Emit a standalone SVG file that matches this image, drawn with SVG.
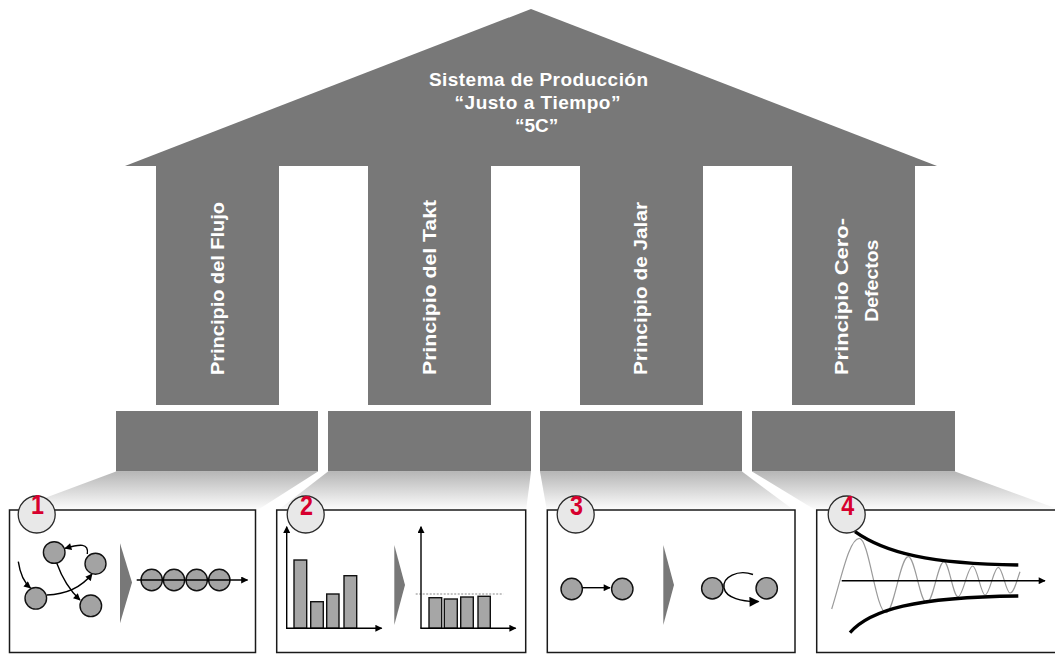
<svg xmlns="http://www.w3.org/2000/svg" width="1055" height="654" viewBox="0 0 1055 654">
<style>
.dark{fill:#787878}
.ttl{font-family:"Liberation Sans",Arial,sans-serif;font-weight:bold;fill:#fff}
.box{fill:#fff;stroke:#1a1a1a;stroke-width:1.5}
.nodec{fill:#a3a3a3;stroke:#111;stroke-width:1.4}
.bar{fill:#a6a6a6;stroke:#111;stroke-width:1.4}
.ln{fill:none;stroke:#000;stroke-width:1.4}
.chev{fill:#787878}
.badge{fill:#e8e8e8;stroke:#2a2a2a;stroke-width:1.3}
.num{font-family:"Liberation Sans",Arial,sans-serif;font-weight:bold;font-size:28px;fill:#d7002e}
</style>
<defs>
<linearGradient id="fade" x1="0" y1="0" x2="0" y2="1">
<stop offset="0" stop-color="#b6b6b6"/>
<stop offset="1" stop-color="#ffffff"/>
</linearGradient>
<marker id="ah" viewBox="0 0 10 10" refX="9" refY="5" markerWidth="8" markerHeight="7" markerUnits="userSpaceOnUse" orient="auto">
<path d="M0,0 L10,5 L0,10 z" fill="#000"/>
</marker>
<marker id="ahb" viewBox="0 0 10 10" refX="9" refY="5" markerWidth="11" markerHeight="10" markerUnits="userSpaceOnUse" orient="auto">
<path d="M0,0 L10,5 L0,10 z" fill="#000"/>
</marker>
</defs>

<g id="roof">
<polygon class="dark" points="125,166 531,9 937,166"/>
<text class="ttl" font-size="19" text-anchor="middle" x="538.5" y="86" textLength="219" lengthAdjust="spacing">Sistema de Producción</text>
<text class="ttl" font-size="19" text-anchor="middle" x="537.5" y="109.3" textLength="166" lengthAdjust="spacing">“Justo a Tiempo”</text>
<text class="ttl" font-size="19" text-anchor="middle" x="536.7" y="131.7">“5C”</text>
</g>

<g id="pillar-1">
<rect class="dark" x="156" y="165" width="123" height="240"/>
<text class="ttl" font-size="17.5" transform="translate(223.5,375) rotate(-90)" textLength="173" lengthAdjust="spacingAndGlyphs">Principio del Flujo</text>
</g>
<g id="pillar-2">
<rect class="dark" x="368" y="165" width="123" height="240"/>
<text class="ttl" font-size="17.5" transform="translate(436,375) rotate(-90)" textLength="175" lengthAdjust="spacingAndGlyphs">Principio del Takt</text>
</g>
<g id="pillar-3">
<rect class="dark" x="580" y="165" width="123" height="240"/>
<text class="ttl" font-size="17.5" transform="translate(647,375) rotate(-90)" textLength="173" lengthAdjust="spacingAndGlyphs">Principio de Jalar</text>
</g>
<g id="pillar-4">
<rect class="dark" x="792" y="165" width="123" height="240"/>
<text class="ttl" font-size="17.5" transform="translate(848.3,375) rotate(-90)" textLength="157" lengthAdjust="spacingAndGlyphs">Principio Cero-</text>
<text class="ttl" font-size="17.5" transform="translate(878,321.7) rotate(-90)" textLength="82" lengthAdjust="spacingAndGlyphs">Defectos</text>
</g>

<g id="base-1"><rect class="dark" x="116" y="411" width="202" height="60.5"/></g>
<g id="base-2"><rect class="dark" x="328" y="411" width="203" height="60.5"/></g>
<g id="base-3"><rect class="dark" x="540" y="411" width="202" height="60.5"/></g>
<g id="base-4"><rect class="dark" x="752" y="411" width="203" height="60.5"/></g>

<g id="connectors">
<polygon fill="url(#fade)" points="116,471.5 318,471.5 256,511 10,511"/>
<polygon fill="url(#fade)" points="328,471.5 531,471.5 526,511 277,511"/>
<polygon fill="url(#fade)" points="540,471.5 742,471.5 795,511 547,511"/>
<polygon fill="url(#fade)" points="752,471.5 955,471.5 1055,508 1055,511 817,511"/>
</g>

<g id="panel-1">
<rect class="box" x="9.5" y="510" width="246" height="142.5"/>
<path class="ln" d="M18.3,561.7 Q21,580 30.5,588" marker-end="url(#ah)"/>
<path class="ln" d="M46.7,595 Q76,594 92,574" marker-end="url(#ah)"/>
<path class="ln" d="M87.3,554 C89,543 80,544 65,548.3" marker-end="url(#ah)"/>
<path class="ln" d="M56.7,563 Q65,586 80,600" marker-end="url(#ah)"/>
<circle class="nodec" cx="54.2" cy="552.5" r="10.8"/>
<circle class="nodec" cx="95.5" cy="563.7" r="10.5"/>
<circle class="nodec" cx="35.8" cy="598.3" r="10.8"/>
<circle class="nodec" cx="90.8" cy="605.8" r="10.8"/>
<polygon class="chev" points="120,543.3 132,582.5 120,623.3"/>
<circle class="nodec" cx="151.7" cy="580" r="10.7"/>
<circle class="nodec" cx="174" cy="580" r="10.7"/>
<circle class="nodec" cx="196.7" cy="580" r="10.7"/>
<circle class="nodec" cx="219.3" cy="580" r="10.7"/>
<line class="ln" x1="136.7" y1="580" x2="247.5" y2="580" marker-end="url(#ah)"/>
</g>

<g id="panel-2">
<rect class="box" x="276.7" y="510" width="249" height="142.5"/>
<rect class="bar" x="294" y="560" width="12.7" height="68.3"/>
<rect class="bar" x="310.7" y="601.7" width="12.6" height="26.6"/>
<rect class="bar" x="326.7" y="594" width="12.3" height="34.3"/>
<rect class="bar" x="344" y="575.7" width="12.7" height="52.6"/>
<line class="ln" x1="286.7" y1="628.3" x2="286.7" y2="526.7" marker-end="url(#ah)"/>
<line class="ln" x1="286" y1="628.3" x2="381.7" y2="628.3" marker-end="url(#ah)"/>
<polygon class="chev" points="394.3,545 405,585 394.3,625"/>
<line x1="415.7" y1="594" x2="503.3" y2="594" stroke="#888" stroke-width="1.2" stroke-dasharray="2,1.5"/>
<rect class="bar" x="429" y="597.7" width="12.7" height="30.6"/>
<rect class="bar" x="444.3" y="599" width="13" height="29.3"/>
<rect class="bar" x="460.7" y="597" width="12.6" height="31.3"/>
<rect class="bar" x="478" y="596.3" width="12.3" height="32"/>
<line class="ln" x1="421" y1="628.3" x2="421" y2="526.7" marker-end="url(#ah)"/>
<line class="ln" x1="420.3" y1="628.3" x2="515.7" y2="628.3" marker-end="url(#ah)"/>
</g>

<g id="panel-3">
<rect class="box" x="547.3" y="510" width="247.7" height="142.5"/>
<circle class="nodec" cx="571.7" cy="589" r="10.7"/>
<circle class="nodec" cx="622.3" cy="589" r="10.7"/>
<line class="ln" x1="582.7" y1="587.7" x2="610" y2="587.7" marker-end="url(#ah)"/>
<polygon class="chev" points="663.3,545 674,585 663.3,625"/>
<circle class="nodec" cx="712.3" cy="588.3" r="10.7"/>
<circle class="nodec" cx="766.7" cy="588.3" r="10.7"/>
<path class="ln" d="M753,574.5 C738,569 722,577 724,588 C726,598 742,602 758.5,601.5" marker-end="url(#ahb)"/>
</g>

<g id="panel-4">
<rect class="box" x="816.7" y="510" width="245" height="142.5"/>
<path fill="none" stroke="#9a9a9a" stroke-width="1.2" d="M831.7,609 C841,580 849,538.3 859.3,538.3 C869,538.3 876,612.7 886,612.7 C894,612.7 900,556.7 908.3,556.7 C915,556.7 920,603 926.7,603 C933,603 938,561.7 944,561.7 C949,561.7 953,596.7 958,596.7 C963,596.7 967.5,566 972.7,566 C977,566 981,595 985,595 C990,595 993.5,567.3 998.3,567.3 C1002.5,567.3 1006,593 1010,593 C1014,593 1017,580 1020,571.7"/>
<line class="ln" x1="841.7" y1="580.7" x2="1045" y2="580.7" marker-end="url(#ah)"/>
<path fill="none" stroke="#000" stroke-width="3.3" d="M855,531.7 C885,553 930,564 1018.3,565"/>
<path fill="none" stroke="#000" stroke-width="3.3" d="M850,632.7 C870,610 915,597 1018.3,596"/>
</g>

<g id="badge-1">
<circle class="badge" cx="36.7" cy="514.5" r="18.5"/>
<text class="num" x="37.5" y="513.5" text-anchor="middle" textLength="13" lengthAdjust="spacingAndGlyphs">1</text>
</g>
<g id="badge-2">
<circle class="badge" cx="305.7" cy="514.5" r="18.5"/>
<text class="num" x="306.5" y="514.5" text-anchor="middle" textLength="13" lengthAdjust="spacingAndGlyphs">2</text>
</g>
<g id="badge-3">
<circle class="badge" cx="575.7" cy="514.5" r="18.5"/>
<text class="num" x="576.5" y="514.5" text-anchor="middle" textLength="13" lengthAdjust="spacingAndGlyphs">3</text>
</g>
<g id="badge-4">
<circle class="badge" cx="846.7" cy="514.5" r="18.5"/>
<text class="num" x="847.8" y="514.5" text-anchor="middle" textLength="13" lengthAdjust="spacingAndGlyphs">4</text>
</g>
</svg>
